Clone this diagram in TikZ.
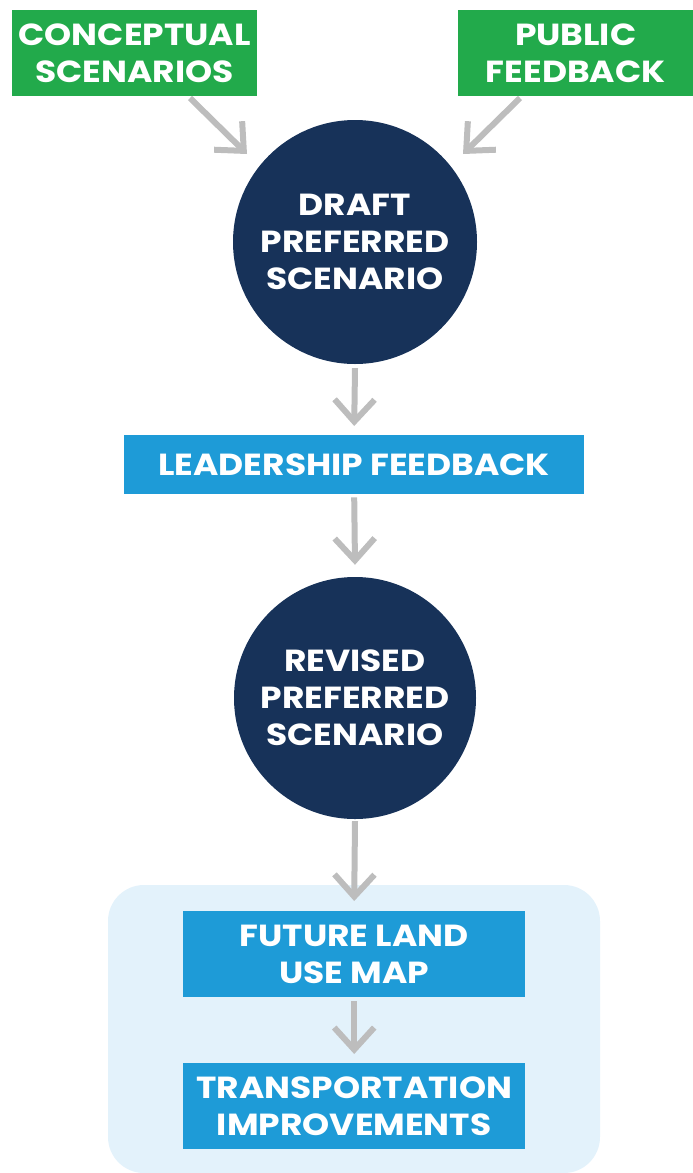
\documentclass[tikz,border=0pt]{standalone}
\usepackage{fontspec}
\setmainfont{Poppins}[FakeStretch=1.13]
\usetikzlibrary{arrows.meta}
\definecolor{cgreen}{HTML}{22AA4B}
\definecolor{cnavy}{HTML}{173259}
\definecolor{cblue}{HTML}{1E9BD7}
\definecolor{cbg}{HTML}{E3F2FB}
\definecolor{cgray}{HTML}{BDBDBD}
\begin{document}
\begin{tikzpicture}[x=1pt,y=-1pt,
  lbl/.style={text=white,font=\fontsize{30.5}{37}\selectfont\bfseries,align=center,inner sep=0pt},
  greenbox/.style={lbl,fill=cgreen,anchor=north west},
  bluebox/.style={lbl,fill=cblue,anchor=north west},
  circ/.style={lbl,fill=cnavy,circle},
  arr/.style={draw=cgray,line width=6pt,-{Straight Barb[length=22pt,width=40pt]}}
]
\useasboundingbox (0,0) rectangle (693,1173);
\fill[cbg,rounded corners=36pt] (108,885) rectangle (600,1173);
\node[greenbox,minimum width=245pt,minimum height=86pt] (cs) at (12,10) {CONCEPTUAL\\SCENARIOS};
\node[greenbox,minimum width=235pt,minimum height=86pt] (pf) at (458,10) {PUBLIC\\FEEDBACK};
\node[circ,minimum size=244pt] (d) at (355,242) {DRAFT\\PREFERRED\\SCENARIO};
\node[bluebox,minimum width=460pt,minimum height=59pt] (lf) at (124,435) {LEADERSHIP FEEDBACK};
\node[circ,minimum size=242pt] (r) at (355,698) {REVISED\\PREFERRED\\SCENARIO};
\node[bluebox,minimum width=342pt,minimum height=86pt] (fl) at (183,911) {FUTURE LAND\\USE MAP};
\node[bluebox,minimum width=342pt,minimum height=86pt] (tr) at (183,1063) {TRANSPORTATION\\IMPROVEMENTS};
\coordinate (a1s) at (190,98); \coordinate (a1e) at (247,154);
\coordinate (a2s) at (520,98); \coordinate (a2e) at (463,154);
\draw[arr] (a1s) -- (a1e);
\draw[arr] (a2s) -- (a2e);
\draw[arr] ([yshift=-4pt]d.south) -- ([yshift=9pt]lf.north);
\draw[arr] ([yshift=-3pt]lf.south) -- ([yshift=12pt]r.north);
\draw[arr] ([yshift=-2pt]r.south) -- ([yshift=10pt]fl.north);
\draw[arr] ([yshift=-4pt]fl.south) -- ([yshift=9pt]tr.north);
\end{tikzpicture}
\end{document}
